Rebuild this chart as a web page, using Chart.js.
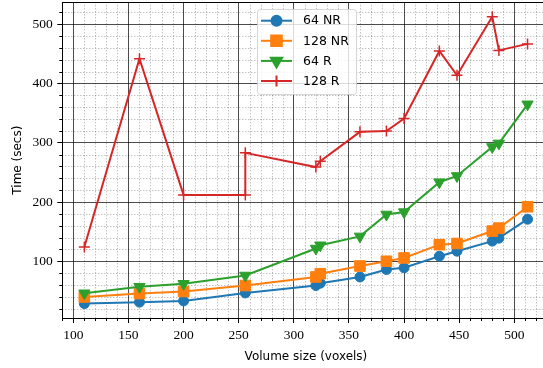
<!DOCTYPE html>
<html>
<head>
<meta charset="utf-8">
<script src="https://cdn.jsdelivr.net/npm/chart.js"></script>
<style>
  html, body { margin: 0; padding: 0; background: #fff; overflow: hidden; }
  #wrap { width: 543px; height: 368px; overflow: hidden; }
</style>
</head>
<body>
<div id="wrap"><canvas id="chart" width="556" height="368"></canvas></div>
<script>
// volume sizes (voxels) shared by the first three series
const sizes = [110, 160, 200, 256, 320, 324, 360, 384, 400, 432, 448, 480, 486, 512];
const nr64 = [28.5, 31, 33, 46.5, 59, 63, 73.5, 86, 89, 108.5, 117, 134, 139, 171];
const nr128 = [39.7, 45.4, 49, 59, 73.5, 79, 92, 100, 105.6, 128, 130, 151, 156, 192];
const r64 = [46, 57, 62, 76, 121.5, 127, 142, 179, 183, 233.5, 244, 293, 299, 365];
// the 128 R run has an extra point at 256
const sizesR128 = [110, 160, 200, 256, 256, 320, 324, 360, 384, 400, 432, 448, 480, 486, 512];
const r128 = [124, 442, 212, 212, 283, 259, 269, 318.5, 320, 341, 455, 414, 513, 456, 467];

const xTicks = [100, 150, 200, 250, 300, 350, 400, 450, 500];
const yTicks = [100, 200, 300, 400, 500];

const pts = (xs, ys) => xs.map((x, i) => ({ x, y: ys[i] }));

const series = (label, data, color, pointStyle, radius, order, extra = {}) => ({
  label,
  data,
  borderColor: color,
  backgroundColor: color,
  borderWidth: 2,
  tension: 0,
  pointStyle,
  pointRadius: radius,
  pointHoverRadius: radius,
  pointBorderWidth: 1,
  pointBackgroundColor: color,
  pointBorderColor: color,
  order,
  ...extra,
});

// minor grid lines + minor ticks, like matplotlib's minorticks_on + grid(which="minor")
const minorGrid = {
  id: "minorGrid",
  beforeDatasetsDraw(chart) {
    const { ctx, chartArea: a, scales } = chart;
    const xs = scales.x, ys = scales.y;
    ctx.save();
    ctx.lineWidth = 1;
    ctx.setLineDash([1, 2]);
    ctx.strokeStyle = "rgba(0,0,0,0.35)";
    for (let v = 100; v <= 530; v += 10) {
      if (v % 50 === 0) continue;
      const px = Math.round(xs.getPixelForValue(v)) + 0.5;
      ctx.beginPath();
      ctx.moveTo(px, a.top);
      ctx.lineTo(px, a.bottom);
      ctx.stroke();
    }
    for (let v = 20; v <= 520; v += 20) {
      if (v % 100 === 0) continue;
      const py = Math.round(ys.getPixelForValue(v)) + 0.5;
      ctx.beginPath();
      ctx.moveTo(a.left, py);
      ctx.lineTo(a.right, py);
      ctx.stroke();
    }
    ctx.setLineDash([]);
    ctx.strokeStyle = "#000";
    for (let v = 90; v <= 530; v += 10) {
      if (v % 50 === 0) continue;
      const px = Math.round(xs.getPixelForValue(v)) + 0.5;
      ctx.beginPath();
      ctx.moveTo(px, a.bottom);
      ctx.lineTo(px, a.bottom + 3);
      ctx.stroke();
    }
    for (let v = 20; v <= 520; v += 20) {
      if (v % 100 === 0) continue;
      const py = Math.round(ys.getPixelForValue(v)) + 0.5;
      ctx.beginPath();
      ctx.moveTo(a.left, py);
      ctx.lineTo(a.left - 3, py);
      ctx.stroke();
    }
    // top spine
    ctx.beginPath();
    ctx.moveTo(a.left, Math.round(a.top) + 0.5);
    ctx.lineTo(a.right, Math.round(a.top) + 0.5);
    ctx.stroke();
    ctx.restore();
  },
};

// legend box inside the axes, upper centre
const boxLegend = {
  id: "boxLegend",
  afterDraw(chart) {
    const ctx = chart.ctx;
    const x0 = 257, y0 = 9, w = 99, h = 85;
    ctx.save();
    ctx.beginPath();
    ctx.roundRect(x0 + 0.5, y0 + 0.5, w, h, 3);
    ctx.fillStyle = "rgba(255,255,255,0.8)";
    ctx.fill();
    ctx.strokeStyle = "rgba(204,204,204,0.8)";
    ctx.lineWidth = 1;
    ctx.stroke();
    ctx.font = "12.5px 'DejaVu Sans'";
    ctx.textBaseline = "middle";
    chart.data.datasets.forEach((ds, i) => {
      const cy = 20.7 + i * 20.1;
      ctx.strokeStyle = ds.borderColor;
      ctx.fillStyle = ds.borderColor;
      ctx.lineWidth = 2;
      ctx.beginPath();
      ctx.moveTo(261, cy);
      ctx.lineTo(292, cy);
      ctx.stroke();
      if (Chart.helpers && Chart.helpers.drawPoint) {
        Chart.helpers.drawPoint(ctx, {
          pointStyle: ds.pointStyle,
          radius: ds.pointRadius,
          rotation: ds.pointRotation || 0,
          borderWidth: ds.pointBorderWidth,
        }, 276.5, cy);
      }
      ctx.fillStyle = "#000";
      ctx.fillText(ds.label, 303, cy + 0.5);
    });
    ctx.restore();
  },
};

new Chart(document.getElementById("chart"), {
  type: "line",
  data: {
    datasets: [
      series("64 NR", pts(sizes, nr64), "#1f77b4", "circle", 5, 3),
      series("128 NR", pts(sizes, nr128), "#ff7f0e", "rect", 7.5, 2),
      series("64 R", pts(sizes, r64), "#2ca02c", "triangle", 6.5, 1, { pointRotation: 180 }),
      series("128 R", pts(sizesR128, r128), "#d62728", "cross", 5.5, 0, { pointBorderWidth: 1.5 }),
    ],
  },
  options: {
    responsive: false,
    animation: false,
    devicePixelRatio: 1,
    layout: { autoPadding: false, padding: { left: 0, top: 2.3, right: 6.4, bottom: 0 } },
    plugins: {
      legend: { display: false },
      tooltip: { enabled: false },
    },
    scales: {
      x: {
        type: "linear",
        min: 90,
        max: 532,
        afterBuildTicks: (s) => { s.ticks = xTicks.map((value) => ({ value })); },
        afterFit: (s) => { s.height = 50; s.paddingLeft = 0; s.paddingRight = 0; },
        ticks: {
          font: { family: "Liberation Serif", size: 13.5 },
          color: "#000",
          padding: 4.5,
          maxRotation: 0,
          autoSkip: false,
        },
        grid: { color: "rgba(0,0,0,0.7)", tickColor: "#000", tickLength: 5, lineWidth: 1 },
        border: { color: "#000", width: 1 },
        title: {
          display: true,
          text: "Volume size (voxels)",
          font: { family: "DejaVu Sans", size: 12 },
          color: "#000",
          padding: { top: 0, bottom: 4 },
        },
      },
      y: {
        type: "linear",
        min: 4.2,
        max: 537.2,
        afterBuildTicks: (s) => { s.ticks = yTicks.map((value) => ({ value })); },
        afterFit: (s) => { s.width = 62.3; s.paddingTop = 0; s.paddingBottom = 0; },
        ticks: {
          font: { family: "Liberation Serif", size: 13.5 },
          color: "#000",
          padding: 4.5,
        },
        grid: { color: "rgba(0,0,0,0.7)", tickColor: "#000", tickLength: 5, lineWidth: 1 },
        border: { color: "#000", width: 1 },
        title: {
          display: true,
          text: "Time (secs)",
          font: { family: "DejaVu Sans", size: 12 },
          color: "#000",
          padding: { top: 11, bottom: 0 },
        },
      },
    },
  },
  plugins: [minorGrid, boxLegend],
});
</script>
</body>
</html>
